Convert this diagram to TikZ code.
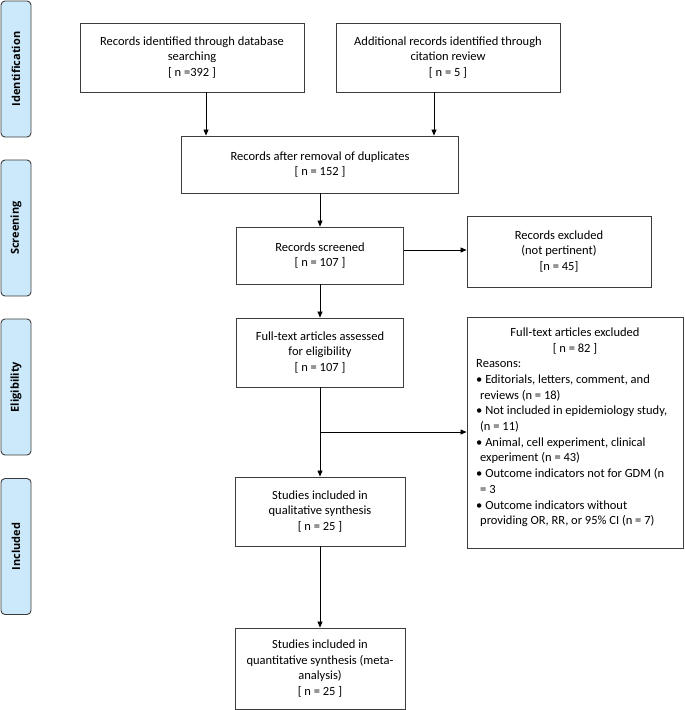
\documentclass[tikz,border=0pt]{standalone}
\usepackage{fontspec}
\setmainfont{Carlito}
\newfontfamily\sidefont{Open Sans}
\usetikzlibrary{arrows.meta,calc}
\definecolor{sideblue}{RGB}{204,233,251}
\definecolor{edge}{RGB}{60,60,60}
\tikzset{
  box/.style={draw=edge, line width=0.9pt, fill=white, align=center, inner sep=2pt,
              font=\fontsize{12.5}{15.5}\selectfont},
  side/.style={draw=edge, line width=0.9pt, fill=sideblue, rounded corners=4pt,
               minimum width=30pt, minimum height=136pt, inner sep=0pt},
  sidelbl/.style={rotate=90, font=\sidefont\bfseries\fontsize{11}{13}\selectfont},
  arr/.style={draw=black, line width=0.8pt, -{Triangle[length=6pt,width=5pt]}},
  txt/.style={inner sep=0pt, font=\fontsize{12.5}{15.7}\selectfont}
}
\begin{document}
\begin{tikzpicture}[x=1pt,y=-1pt]
\useasboundingbox (0,0) rectangle (685,710);
% side labels
\node[side] (s1) at (16,69) {};
\node[sidelbl] (l1) at (s1.center) {Identification};
\node[side] (s2) at (16,228) {};
\node[sidelbl] (l2) at (s2.center) {Screening};
\node[side] (s3) at (16,387) {};
\node[sidelbl] (l3) at (s3.center) {Eligibility};
\node[side] (s4) at (16,546.5) {};
\node[sidelbl] (l4) at (s4.center) {Included};
% main boxes
\node[box, minimum width=224pt, minimum height=69pt] (db) at (192,57.5)
  {Records identified through database\\searching\\{}[ n =392 ]};
\node[box, minimum width=224pt, minimum height=69pt] (cit) at (448,57.5)
  {Additional records identified through\\citation review\\{}[ n = 5 ]};
\node[box, minimum width=277pt, minimum height=57pt] (dup) at (320,164.5)
  {Records after removal of duplicates\\{}[ n = 152 ]};
\node[box, minimum width=167pt, minimum height=57pt] (scr) at (320,255.5)
  {Records screened\\{}[ n = 107 ]};
\node[box, minimum width=184pt, minimum height=71pt] (exc) at (559,251.5)
  {Records excluded\\(not pertinent)\\{}[n = 45]};
\node[box, minimum width=167pt, minimum height=69pt] (ft) at (320,352.5)
  {Full-text articles assessed\\for eligibility\\{}[ n = 107 ]};
\node[box, minimum width=216pt, minimum height=231pt] (ftx) at (575,432.5) {};
\node[txt, anchor=north, align=center] (ftxt) at (575,328)
  {Full-text articles excluded\\{}[ n = 82 ]};
\node[txt, anchor=north west, align=left] (ftxl) at (476,359.5)
  {Reasons:\\
   • Editorials, letters, comment, and\\
   \hspace*{4pt}reviews (n = 18)\\
   • Not included in epidemiology study,\\
   \hspace*{4pt}(n = 11)\\
   • Animal, cell experiment, clinical\\
   \hspace*{4pt}experiment (n = 43)\\
   • Outcome indicators not for GDM (n\\
   \hspace*{4pt}= 3\\
   • Outcome indicators without\\
   \hspace*{4pt}providing OR, RR, or 95\% CI (n = 7)};
\node[box, minimum width=170pt, minimum height=69pt] (qual) at (320,511.5)
  {Studies included in\\qualitative synthesis\\{}[ n = 25 ]};
\node[box, minimum width=170pt, minimum height=81pt] (quan) at (320,668.5)
  {Studies included in\\quantitative synthesis (meta-\\analysis)\\{}[ n = 25 ]};
% connectors
\coordinate (a1) at (206,0);
\coordinate (a2) at (434,0);
\coordinate (a3) at (0,250);
\coordinate (br) at (320,432);
\draw[arr] (db.south -| a1) -- (dup.north -| a1);
\draw[arr] (cit.south -| a2) -- (dup.north -| a2);
\draw[arr] (dup.south) -- (scr.north);
\draw[arr] (scr.east |- a3) -- (exc.west |- a3);
\draw[arr] (scr.south) -- (ft.north);
\draw[arr] (ft.south) -- (qual.north);
\draw[arr] (br) -- (br -| ftx.west);
\draw[arr] (qual.south) -- (quan.north);
\end{tikzpicture}
\end{document}
